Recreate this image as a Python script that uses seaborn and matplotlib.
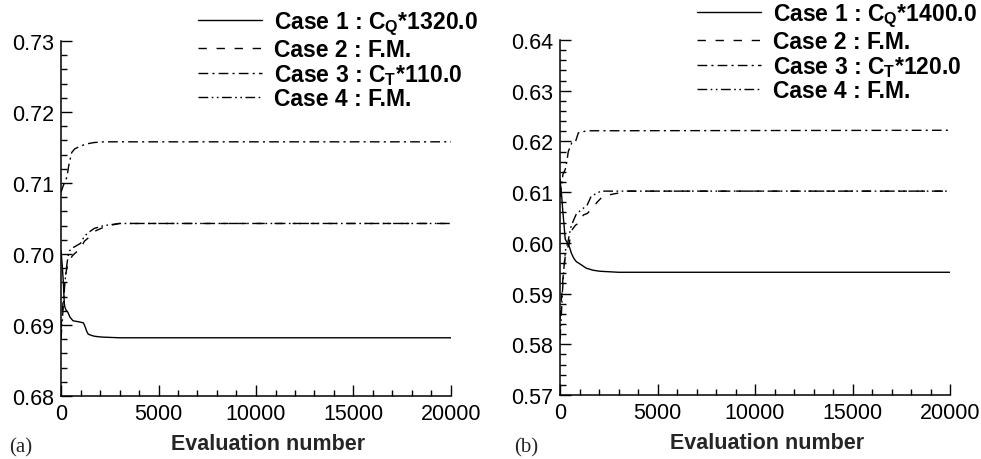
import numpy as np
import pandas as pd
import matplotlib
matplotlib.use("Agg")
import matplotlib.pyplot as plt
from matplotlib.ticker import MultipleLocator, FormatStrFormatter
import seaborn as sns

# ---------------- data ----------------
# Panel (a)
a_case1_x = [0, 60, 120, 170, 200, 260, 350, 460, 615, 1000, 1150, 1230, 1320, 1400, 1600, 1750, 2100, 3000, 20000]
a_case1_y = [0.7005, 0.6985, 0.6960, 0.6930, 0.6925, 0.6921, 0.6918, 0.6911, 0.6906, 0.6904, 0.6903, 0.6898, 0.6891, 0.6887, 0.6885, 0.6884, 0.6883, 0.6882, 0.6882]

a_case2_x = [0, 100, 200, 300, 450, 600, 800, 1000, 1200, 1500, 1800, 2300, 3000, 20000]
a_case2_y = [0.6895, 0.6930, 0.6965, 0.6980, 0.6992, 0.6998, 0.7003, 0.7008, 0.7018, 0.7025, 0.7033, 0.7039, 0.7043, 0.7043]

a_case3_x = [0, 100, 200, 300, 400, 550, 700, 1000, 1300, 1700, 2200, 20000]
a_case3_y = [0.7087, 0.7095, 0.7102, 0.7108, 0.7125, 0.7143, 0.7148, 0.7152, 0.7155, 0.7157, 0.7158, 0.7158]

a_case4_x = [0, 100, 200, 300, 400, 550, 750, 1000, 1200, 1400, 1700, 2200, 3000, 20000]
a_case4_y = [0.6880, 0.6920, 0.6960, 0.6985, 0.7003, 0.7008, 0.7011, 0.7015, 0.7025, 0.7030, 0.7036, 0.7040, 0.7043, 0.7043]

# Panel (b)
b_case1_x = [0, 80, 150, 270, 425, 500, 580, 700, 835, 1040, 1350, 1700, 2050, 3000, 20000]
b_case1_y = [0.6125, 0.6095, 0.6060, 0.6007, 0.5997, 0.5990, 0.5980, 0.5970, 0.5963, 0.5958, 0.5950, 0.5946, 0.5944, 0.5942, 0.5942]

b_case2_x = [0, 150, 300, 450, 600, 800, 1000, 1200, 1400, 1700, 1900, 2200, 2700, 3500, 20000]
b_case2_y = [0.5850, 0.5930, 0.5985, 0.5995, 0.6025, 0.6035, 0.6040, 0.6055, 0.6058, 0.6070, 0.6080, 0.6092, 0.6096, 0.6102, 0.6102]

b_case3_x = [0, 150, 270, 350, 425, 600, 800, 940, 1400, 20000]
b_case3_y = [0.6090, 0.6135, 0.6145, 0.6160, 0.6180, 0.6197, 0.6200, 0.6217, 0.6221, 0.6222]

b_case4_x = [0, 60, 120, 200, 280, 400, 550, 700, 850, 1100, 1400, 1600, 1900, 2100, 20000]
b_case4_y = [0.5810, 0.5850, 0.5900, 0.5950, 0.5985, 0.6000, 0.6030, 0.6045, 0.6058, 0.6065, 0.6075, 0.6092, 0.6098, 0.6102, 0.6102]

labels_a = [r"Case 1 : C$_{\mathbf{Q}}$*1320.0", "Case 2 : F.M.",
            r"Case 3 : C$_{\mathbf{T}}$*110.0", "Case 4 : F.M."]
labels_b = [r"Case 1 : C$_{\mathbf{Q}}$*1400.0", "Case 2 : F.M.",
            r"Case 3 : C$_{\mathbf{T}}$*120.0", "Case 4 : F.M."]
panel_tags = ["(a)", "(b)"]
xlabel = "Evaluation number"
ylims = [(0.68, 0.73), (0.57, 0.64)]

# ---------------- style ----------------
sns.set_style("ticks")
plt.rcParams["font.family"] = ["Liberation Sans", "DejaVu Sans"]
plt.rcParams["mathtext.fontset"] = "custom"
plt.rcParams["mathtext.rm"] = "Liberation Sans:bold"
plt.rcParams["mathtext.bf"] = "Liberation Sans:bold"
plt.rcParams["mathtext.it"] = "Liberation Sans:bold"
plt.rcParams["lines.scale_dashes"] = False

styles = ["-", (0, (6, 7)), (0, (7, 3, 1.5, 3)), (0, (7, 2.5, 1.2, 2.5, 1.2, 2.5))]

fig = plt.figure(figsize=(9.81, 4.60), dpi=100)
ax_a = fig.add_axes([61 / 981, 1 - 397 / 460, 390 / 981, 355 / 460])
ax_b = fig.add_axes([560 / 981, 1 - 396 / 460, 390 / 981, 355 / 460])

panels = [
    (ax_a, [(a_case1_x, a_case1_y), (a_case2_x, a_case2_y), (a_case3_x, a_case3_y), (a_case4_x, a_case4_y)], labels_a),
    (ax_b, [(b_case1_x, b_case1_y), (b_case2_x, b_case2_y), (b_case3_x, b_case3_y), (b_case4_x, b_case4_y)], labels_b),
]

legend_anchor = [(198 / 981, 1 - 11 / 460), (697 / 981, 1 - 3 / 460)]
tag_pos = [(9 / 981, 1 - 448 / 460), (514 / 981, 1 - 448 / 460)]

for i, (ax, series, labels) in enumerate(panels):
    for (xs, ys), lab, ls in zip(series, labels, styles):
        df = pd.DataFrame({"x": xs, "y": ys})
        sns.lineplot(data=df, x="x", y="y", ax=ax, color="black", linewidth=1.0,
                     linestyle=ls, label=lab, estimator=None, sort=False)
    ax.set_xlim(0, 20000)
    ax.set_ylim(*ylims[i])
    ax.xaxis.set_major_locator(MultipleLocator(5000))
    ax.xaxis.set_minor_locator(MultipleLocator(1000))
    ax.yaxis.set_major_locator(MultipleLocator(0.01))
    ax.yaxis.set_minor_locator(MultipleLocator(0.002))
    ax.yaxis.set_major_formatter(FormatStrFormatter("%.2f"))
    ax.tick_params(which="both", direction="in", top=False, right=False, colors="black",
                   labelsize=15.5, width=1.0)
    ax.tick_params(which="major", length=8, pad=5)
    ax.tick_params(which="minor", length=4.5)
    for s in ["top", "right"]:
        ax.spines[s].set_visible(False)
    for s in ["left", "bottom"]:
        ax.spines[s].set_linewidth(1.1)
        ax.spines[s].set_color("black")
    ax.set_ylabel("")
    ax.set_xlabel(xlabel, fontsize=15.5, fontweight="bold")
    ax.xaxis.set_label_coords(0.53, -0.105)
    leg = ax.legend(loc="upper left", bbox_to_anchor=legend_anchor[i],
                    bbox_transform=fig.transFigure, frameon=False, borderpad=0,
                    borderaxespad=0, handlelength=2.8, handletextpad=0.5,
                    labelspacing=0.03, prop={"weight": "bold", "size": 16.5})
    for t in leg.get_texts():
        t.set_color("black")
    fig.text(tag_pos[i][0], tag_pos[i][1], panel_tags[i], family="Liberation Serif",
             fontsize=15, va="center", ha="left")

fig.savefig("out.png", dpi=100)
